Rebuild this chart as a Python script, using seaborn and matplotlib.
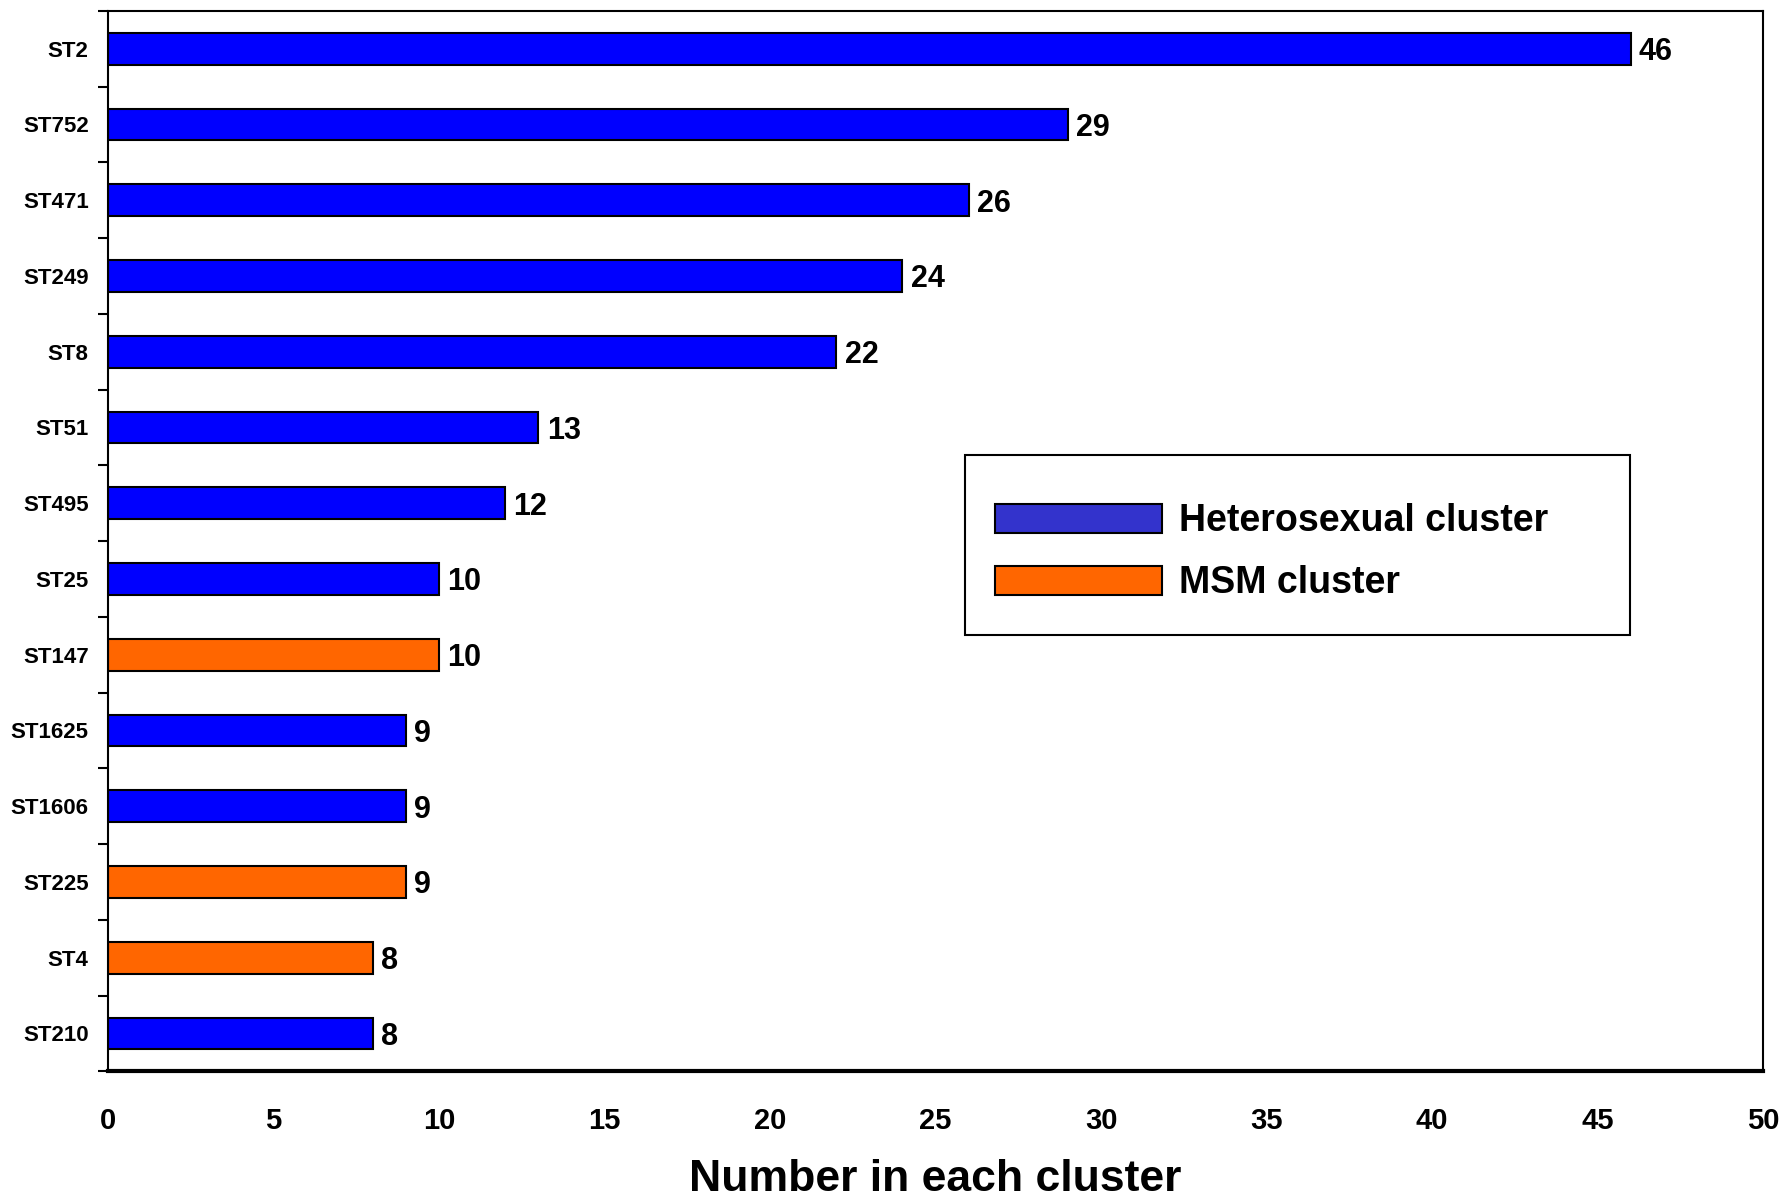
import numpy as np
import pandas as pd
import matplotlib
matplotlib.use("Agg")
import matplotlib.pyplot as plt
import seaborn as sns
from matplotlib.patches import Patch, Rectangle

# Donnees
sequence_types = ['ST2', 'ST752', 'ST471', 'ST249', 'ST8', 'ST51', 'ST495',
                  'ST25', 'ST147', 'ST1625', 'ST1606', 'ST225', 'ST4', 'ST210']
counts = [46, 29, 26, 24, 22, 13, 12, 10, 10, 9, 9, 9, 8, 8]
clusters = ['Heterosexual cluster'] * 8 + ['MSM cluster'] + \
           ['Heterosexual cluster'] * 2 + ['MSM cluster'] * 2 + ['Heterosexual cluster']
cluster_names = ['Heterosexual cluster', 'MSM cluster']
x_ticks = [0, 5, 10, 15, 20, 25, 30, 35, 40, 45, 50]

df = pd.DataFrame({'st': sequence_types, 'n': counts, 'cluster': clusters})

sns.set_style('white')
plt.rcParams['font.family'] = ['Liberation Sans Narrow', 'Liberation Sans', 'DejaVu Sans']
plt.rcParams['font.weight'] = 'bold'
for key in ['text.color', 'axes.labelcolor', 'xtick.color', 'ytick.color']:
    plt.rcParams[key] = 'black'

bar_colors = {'Heterosexual cluster': '#0000FF', 'MSM cluster': '#FF6600'}
legend_colors = {'Heterosexual cluster': '#3333CC', 'MSM cluster': '#FF6600'}

fig, ax = plt.subplots(figsize=(17.83, 12.01), dpi=100)
fig.subplots_adjust(left=0.0606, right=0.9888, top=0.991, bottom=0.108)

sns.barplot(data=df, y='st', x='n', hue='cluster', order=sequence_types,
            hue_order=cluster_names, palette=bar_colors, dodge=False,
            saturation=1, width=0.42, edgecolor='black', linewidth=1.5,
            legend=False, ax=ax)

# Etiquettes des valeurs
for cont in ax.containers:
    anns = ax.bar_label(cont, fmt='%d', padding=6, fontsize=22, fontweight='bold')
    for a in anns:
        a.set_va('center_baseline')

ax.set_xlim(0, 50)
ax.set_ylim(13.5, -0.5)
ax.set_xticks(x_ticks)
ax.set_xticklabels([str(t) for t in x_ticks], fontsize=21, fontweight='bold')
ax.tick_params(axis='x', length=9, width=1.5, direction='out', pad=17)

ax.set_yticks(range(len(sequence_types)))
ax.set_yticklabels(sequence_types, fontsize=16, fontweight='bold')
ax.tick_params(axis='y', which='major', length=0, pad=14)
ax.set_yticks(np.arange(-0.5, len(sequence_types), 1), minor=True)
ax.tick_params(axis='y', which='minor', length=7, width=1.5, direction='out', left=True)

ax.set_xlabel('Number in each cluster', fontsize=32, fontweight='bold', labelpad=17)
ax.set_ylabel('')

for side in ['top', 'right', 'left']:
    ax.spines[side].set_color('black')
    ax.spines[side].set_linewidth(1.5)
ax.spines['bottom'].set_color('black')
ax.spines['bottom'].set_linewidth(3)

# Cadre de la legende dessine a part
ax.add_patch(Rectangle((0.5175, 0.411), 0.402, 0.1705, transform=ax.transAxes,
                       facecolor='white', edgecolor='black', linewidth=1.5,
                       zorder=4, clip_on=False))

handles = [Patch(facecolor=legend_colors[c], edgecolor='black', linewidth=1.5)
           for c in cluster_names]
leg = ax.legend(handles, cluster_names, loc='upper left',
                bbox_to_anchor=(0.536, 0.5355), frameon=False,
                fontsize=27, handlelength=4.45, handleheight=0.82,
                handletextpad=0.45, borderpad=0, labelspacing=0.69,
                borderaxespad=0)
leg.set_zorder(5)
for t in leg.get_texts():
    t.set_fontweight('bold')

plt.savefig('out.png', dpi=100)
